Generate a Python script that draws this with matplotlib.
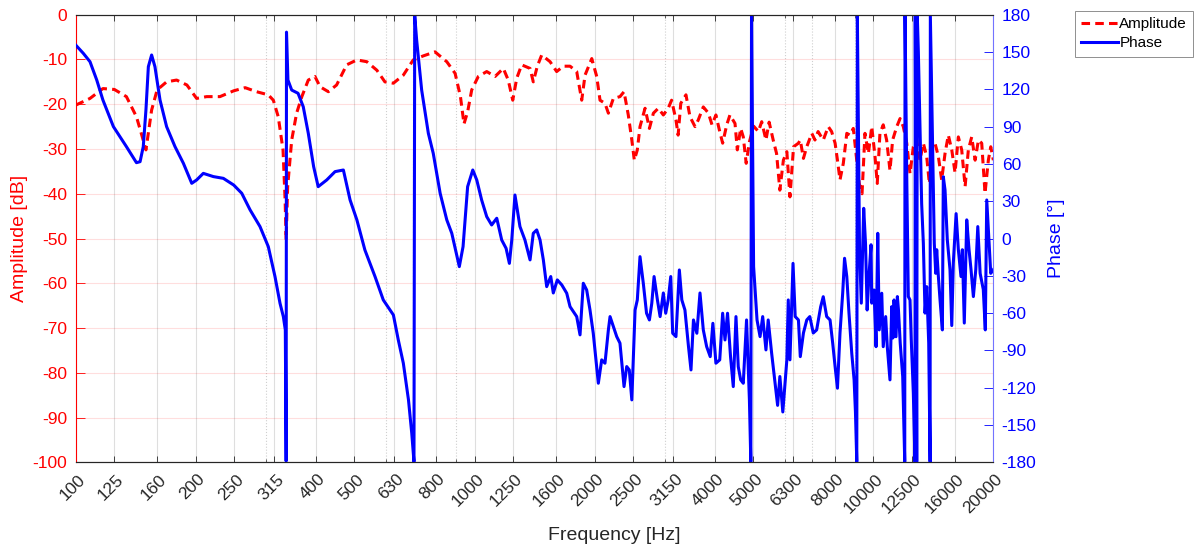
"""
Gráfico de resposta em frequência: amplitude (dB) e fase (graus)
em eixo de frequência logarítmico com bandas de terço de oitava.
"""

import matplotlib.pyplot as plt
from matplotlib.lines import Line2D
from matplotlib.ticker import FixedLocator, LogLocator, NullFormatter
from matplotlib.transforms import ScaledTranslation

plt.rcParams['font.family'] = ['Liberation Sans', 'DejaVu Sans']
plt.rcParams['axes.unicode_minus'] = False

tick_freqs = [100, 125, 160, 200, 250, 315, 400, 500, 630, 800, 1000, 1250,
              1600, 2000, 2500, 3150, 4000, 5000, 6300, 8000, 10000, 12500,
              16000, 20000]
amp_ticks = list(range(-100, 1, 10))
phase_ticks = list(range(-180, 181, 30))

amp_freq = [100, 108.6, 117, 125, 134, 142, 146, 150, 155, 160, 169, 179, 190,
            201, 213, 230, 249, 266, 284, 304, 313, 322, 331, 335, 337, 340,
            348, 358, 369, 383, 398, 410, 430, 451, 478, 507, 537, 569, 596,
            626, 663, 702, 744, 796, 852, 894, 922, 941, 961, 984, 1022, 1073,
            1126, 1181, 1215, 1247, 1276, 1313, 1378, 1404, 1437, 1474, 1547,
            1607, 1670, 1736, 1804, 1857, 1893, 1968, 2025, 2064, 2124, 2166,
            2229, 2316, 2371, 2430, 2480, 2516, 2560, 2600, 2677, 2745, 2809,
            2890, 2975, 3060, 3120, 3200, 3240, 3290, 3390, 3470, 3572, 3640,
            3747, 3860, 3940, 4030, 4120, 4190, 4290, 4370, 4500, 4560, 4650,
            4720, 4800, 4890, 5010, 5150, 5250, 5380, 5480, 5610, 5720, 5830,
            5950, 6070, 6180, 6310, 6490, 6560, 6680, 6810, 7010, 7140, 7270,
            7490, 7710, 7860, 8020, 8130, 8250, 8410, 8580, 8740, 8910, 9050,
            9220, 9370, 9530, 9720, 9910, 10100, 10230, 10390, 10590, 10800,
            11010, 11180, 11450, 11670, 11890, 12130, 12360, 12600, 12850,
            13090, 13350, 13610, 13820, 14010, 14280, 14560, 14840, 15130,
            15420, 15730, 16030, 16340, 16660, 16990, 17310, 17650, 18000,
            18350, 18700, 19060, 19430, 19700, 20000]
amp_db = [-20.2, -18.7, -16.5, -16.7, -18.3, -22.8, -26.5, -30.2, -21.3, -16.8,
          -15.0, -14.6, -15.7, -18.7, -18.3, -18.3, -17.0, -16.3, -17.2, -17.9,
          -19.1, -22.8, -30.2, -41.4, -50.3, -38.4, -28.0, -22.0, -18.3, -14.6,
          -13.8, -16.1, -17.2, -15.7, -11.2, -10.1, -10.5, -12.4, -15.0, -15.3,
          -13.5, -10.1, -9.2, -8.3, -10.5, -13.1, -18.3, -24.4, -21.7, -16.8,
          -13.8, -12.7, -13.8, -12.0, -14.6, -19.1, -14.2, -11.2, -12.0, -15.0,
          -11.5, -9.0, -10.5, -12.7, -11.5, -11.5, -12.7, -19.1, -13.5, -9.8,
          -13.8, -19.1, -19.8, -22.0, -18.7, -18.3, -17.2, -22.4, -28.0, -32.5,
          -30.2, -25.0, -20.9, -25.4, -22.0, -20.9, -22.4, -20.9, -19.1, -23.5,
          -26.9, -19.8, -17.9, -22.8, -25.0, -23.5, -20.6, -22.0, -24.6, -22.4,
          -26.1, -28.7, -24.6, -22.4, -24.3, -30.2, -25.4, -27.3, -33.2, -28.4,
          -24.9, -26.1, -23.9, -28.0, -24.0, -28.0, -31.0, -39.2, -32.5, -30.6,
          -40.7, -29.5, -28.7, -28.0, -32.1, -29.5, -26.5, -28.0, -26.1, -28.0,
          -25.0, -26.1, -28.7, -32.5, -36.9, -33.2, -26.5, -26.9, -25.4, -31.0,
          -37.7, -40.0, -26.5, -31.0, -25.0, -31.7, -37.7, -26.5, -24.6, -28.0,
          -34.8, -28.0, -25.0, -23.2, -25.0, -28.7, -35.5, -29.5, -28.0, -32.5,
          -28.7, -31.7, -37.7, -29.5, -28.7, -31.7, -36.9, -31.0, -26.9, -30.2,
          -35.3, -27.3, -30.2, -38.4, -30.2, -27.3, -32.5, -28.0, -28.7, -39.9,
          -32.5, -29.5, -32.5]

phase_freq = [100, 104.5, 108.6, 112.9, 117, 124.3, 134, 142, 145, 147.7, 150,
              152.1, 155, 158, 162.7, 169, 177.4, 186.2, 195.4, 201, 208.9,
              221.4, 234.5, 249, 260.8, 273.7, 289.8, 304, 316, 325.3, 331.6,
              335.4, 337, 337.7, 340.5, 348, 361, 372, 383, 395, 405.5, 426,
              447, 469, 487.5, 507, 531, 563, 590.5, 626, 644, 663, 683, 696,
              705, 708, 716, 737, 766, 788, 820, 852, 877, 916, 936, 961, 990,
              1013, 1042, 1073, 1104, 1137, 1170, 1200, 1223, 1240, 1263, 1300,
              1338, 1378, 1404, 1432, 1460, 1488, 1517, 1553, 1576, 1613, 1655,
              1703, 1736, 1769, 1804, 1839, 1874, 1911, 1948, 1985, 2044, 2084,
              2124, 2166, 2187, 2229, 2273, 2316, 2371, 2408, 2444, 2480, 2527,
              2560, 2600, 2650, 2700, 2745, 2783, 2820, 2875, 2920, 2975, 3016,
              3060, 3105, 3140, 3200, 3263, 3310, 3370, 3440, 3490, 3540, 3610,
              3676, 3747, 3820, 3900, 3960, 4030, 4120, 4190, 4247, 4310, 4385,
              4455, 4525, 4585, 4650, 4720, 4810, 4890, 4930, 4950, 5010, 5110,
              5200, 5280, 5380, 5450, 5560, 5670, 5755, 5830, 5930, 6070, 6120,
              6180, 6290, 6370, 6490, 6560, 6680, 6810, 6930, 7070, 7210, 7380,
              7490, 7640, 7790, 7910, 8020, 8130, 8250, 8380, 8470, 8580, 8690,
              8830, 8950, 9020, 9090, 9120, 9235, 9330, 9460, 9560, 9650, 9750,
              9870, 9910, 10040, 10160, 10260, 10350, 10500, 10590, 10740,
              10840, 11010, 11120, 11200, 11270, 11400, 11490, 11560, 11680,
              11850, 11990, 12010, 12130, 12240, 12360, 12450, 12600, 12720,
              12740, 12850, 12890, 12970, 13220, 13350, 13480, 13610, 13770,
              13880, 13900, 14090, 14220, 14340, 14420, 14560, 14700, 14900,
              14980, 15130, 15330, 15570, 15730, 15870, 16130, 16340, 16590,
              16720, 16910, 17150, 17380, 17580, 17820, 18070, 18280, 18530,
              18870, 19090, 19250, 19470, 19700, 20000]
phase_deg = [155.6, 148.9, 142.2, 127.5, 111.4, 90.0, 73.9, 61.0, 61.8, 73.9,
             103.4, 138.2, 147.6, 138.2, 111.4, 90.0, 73.9, 60.5, 44.4, 47.1,
             52.4, 49.8, 48.4, 43.0, 36.4, 23.0, 9.6, -6.5, -30.6, -52.1,
             -62.8, -73.5, -179.0, 166.0, 127.5, 119.4, 116.8, 106.0, 84.6,
             57.8, 41.7, 47.1, 53.8, 55.1, 31.0, 15.0, -9.2, -30.6, -49.4,
             -61.5, -81.6, -100.3, -129.8, -156.6, -179.5, 179.5, 159.6, 119.4,
             84.6, 68.5, 36.4, 15.0, 4.2, -22.6, -6.5, 41.7, 55.1, 47.1, 31.0,
             17.6, 10.9, 16.3, -1.2, -7.9, -20.0, -1.2, 35.0, 9.6, -1.2, -17.2,
             4.2, 6.9, -1.2, -17.2, -38.7, -30.6, -43.8, -33.3, -37.3, -44.0,
             -54.8, -58.8, -62.8, -77.5, -36.0, -41.4, -57.5, -76.2, -116.4,
             -97.6, -100.3, -73.5, -62.8, -70.8, -78.9, -84.2, -119.1, -103.0,
             -105.7, -129.8, -57.5, -49.4, -14.6, -36.0, -60.1, -65.5, -52.1,
             -30.6, -49.4, -62.8, -43.8, -60.1, -49.4, -30.6, -76.2, -78.9,
             -25.3, -49.4, -57.5, -86.9, -105.7, -65.5, -76.2, -43.8, -73.5,
             -86.9, -95.0, -68.2, -100.3, -97.6, -60.1, -81.6, -60.1, -95.0,
             -119.1, -62.8, -103.0, -113.7, -116.4, -65.5, -129.8, -179.5,
             179.5, -22.6, -65.5, -78.9, -62.8, -89.6, -65.5, -92.3, -116.4,
             -134.2, -111.0, -139.5, -97.6, -49.4, -97.6, -20.0, -62.8, -65.5,
             -95.0, -76.0, -65.5, -62.8, -76.0, -73.5, -54.8, -46.8, -62.8,
             -65.5, -84.2, -103.0, -120.4, -76.0, -43.8, -15.9, -30.6, -60.1,
             -92.3, -113.7, -139.5, -179.5, 179.5, -9.2, -52.0, 24.3, -4.0,
             -57.5, -30.6, -5.0, -52.0, -41.4, -87.0, 4.2, -73.5, -44.0, -87.0,
             -62.8, -87.0, -113.7, -54.8, -80.0, -49.4, -79.0, -46.7, -57.0,
             -84.0, -111.0, -179.5, 179.5, 49.7, -46.7, -49.4, -81.6, -124.4,
             -179.5, 179.5, -179.5, 179.5, 150.0, 28.0, -4.0, -60.0, -38.7,
             -84.0, -179.5, 179.5, 68.5, -4.0, -28.0, -9.0, -30.6, -49.4,
             -73.5, 49.7, 39.0, -1.0, -25.0, -70.0, -20.0, 20.0, -9.0, -30.6,
             -9.0, -68.0, 15.0, -9.0, -25.0, -46.7, -25.0, 9.6, -28.0, -41.0,
             -73.5, 31.0, 1.5, -28.0, -25.0]

COR_AMP = (1.0, 0.0, 0.0)
COR_FASE = (0.0, 0.0, 1.0)
COR_EIXO = (0.15, 0.15, 0.15)


def plot_frf(output_path="out.png"):
    """
    Gera o gráfico de amplitude e fase com dois eixos y.

    Args:
        output_path (str): Caminho do arquivo de imagem a ser salvo.
    """
    fig = plt.figure(figsize=(12, 5.49), dpi=100)
    ax_amp = fig.add_axes([0.0631, 0.1579, 0.7647, 0.8153])
    ax_fase = ax_amp.twinx()

    ax_amp.plot(amp_freq, amp_db, color=COR_AMP, lw=2.2, linestyle='--',
                dashes=(2.8, 1.7))
    ax_fase.plot(phase_freq, phase_deg, color=COR_FASE, lw=2.2)

    ax_amp.set_xscale('log')
    ax_amp.set_xlim(100, 20000)
    ax_amp.set_ylim(-100, 0)
    ax_fase.set_ylim(-180, 180)

    ax_amp.xaxis.set_major_locator(FixedLocator(tick_freqs))
    ax_amp.xaxis.set_minor_locator(LogLocator(base=10, subs=range(2, 10)))
    ax_amp.xaxis.set_minor_formatter(NullFormatter())
    ax_amp.set_xticks(tick_freqs)
    ax_amp.set_xticklabels([str(f) for f in tick_freqs])
    ax_amp.set_yticks(amp_ticks)
    ax_fase.set_yticks(phase_ticks)

    # grade: vertical cinza, horizontal avermelhada (eixo da amplitude)
    ax_amp.grid(axis='x', which='major', color=COR_EIXO, alpha=0.15, lw=0.8)
    ax_amp.grid(axis='x', which='minor', color=COR_EIXO, alpha=0.22, lw=0.8,
                linestyle=':')
    ax_amp.grid(axis='y', which='major', color=COR_AMP, alpha=0.13, lw=0.8)

    ax_amp.tick_params(axis='x', which='major', direction='in', top=True,
                       length=4, width=0.6, color=COR_EIXO, labelsize=12.5,
                       labelcolor=COR_EIXO, pad=10.5)
    ax_amp.tick_params(axis='x', which='minor', direction='in', top=True,
                       length=2, width=0.5, color=COR_EIXO)
    ax_amp.tick_params(axis='y', direction='in', length=6.5, width=0.6,
                       color=COR_AMP, labelcolor=COR_AMP, labelsize=12.5, pad=6)
    ax_fase.tick_params(axis='y', direction='in', length=6.5, width=0.6,
                        color=COR_FASE, labelcolor=COR_FASE, labelsize=12.5,
                        pad=6)

    offset = ScaledTranslation(5 / 72, 0, fig.dpi_scale_trans)
    for lbl in ax_amp.get_xticklabels():
        lbl.set_rotation(45)
        lbl.set_ha('right')
        lbl.set_va('center')
        lbl.set_rotation_mode('anchor')
        lbl.set_transform(lbl.get_transform() + offset)

    for ax in (ax_amp, ax_fase):
        ax.spines['top'].set_color(COR_EIXO)
        ax.spines['bottom'].set_color(COR_EIXO)
        for s in ax.spines.values():
            s.set_linewidth(0.8)
    ax_amp.spines['left'].set_color(COR_AMP)
    ax_amp.spines['right'].set_visible(False)
    ax_fase.spines['left'].set_visible(False)
    ax_fase.spines['right'].set_color((0.45, 0.45, 1.0))

    ax_amp.set_xlabel("Frequency [Hz]", fontsize=14, color=COR_EIXO)
    ax_amp.xaxis.set_label_coords(0.587, -0.145)
    ax_amp.set_ylabel("Amplitude [dB]", fontsize=14, color=COR_AMP)
    ax_amp.yaxis.set_label_coords(-0.0515, 0.5)
    ax_fase.set_ylabel("Phase [°]", fontsize=14, color=COR_FASE)
    ax_fase.yaxis.set_label_coords(1.059, 0.5)

    handles = [
        Line2D([], [], color=COR_AMP, lw=2.2, linestyle='--', dashes=(2.8, 1.7)),
        Line2D([], [], color=COR_FASE, lw=2.2),
    ]
    leg = fig.legend(handles, ["Amplitude", "Phase"], loc='upper left',
                     bbox_to_anchor=(1075 / 1200, 1 - 11 / 549), fontsize=11,
                     frameon=True, fancybox=False, edgecolor='0.45',
                     handlelength=2.4, handletextpad=0.1, borderpad=0.4,
                     labelspacing=0.35, borderaxespad=0)
    leg.get_frame().set_linewidth(0.7)

    fig.savefig(output_path, dpi=100)
    plt.close(fig)


if __name__ == "__main__":
    plot_frf()
